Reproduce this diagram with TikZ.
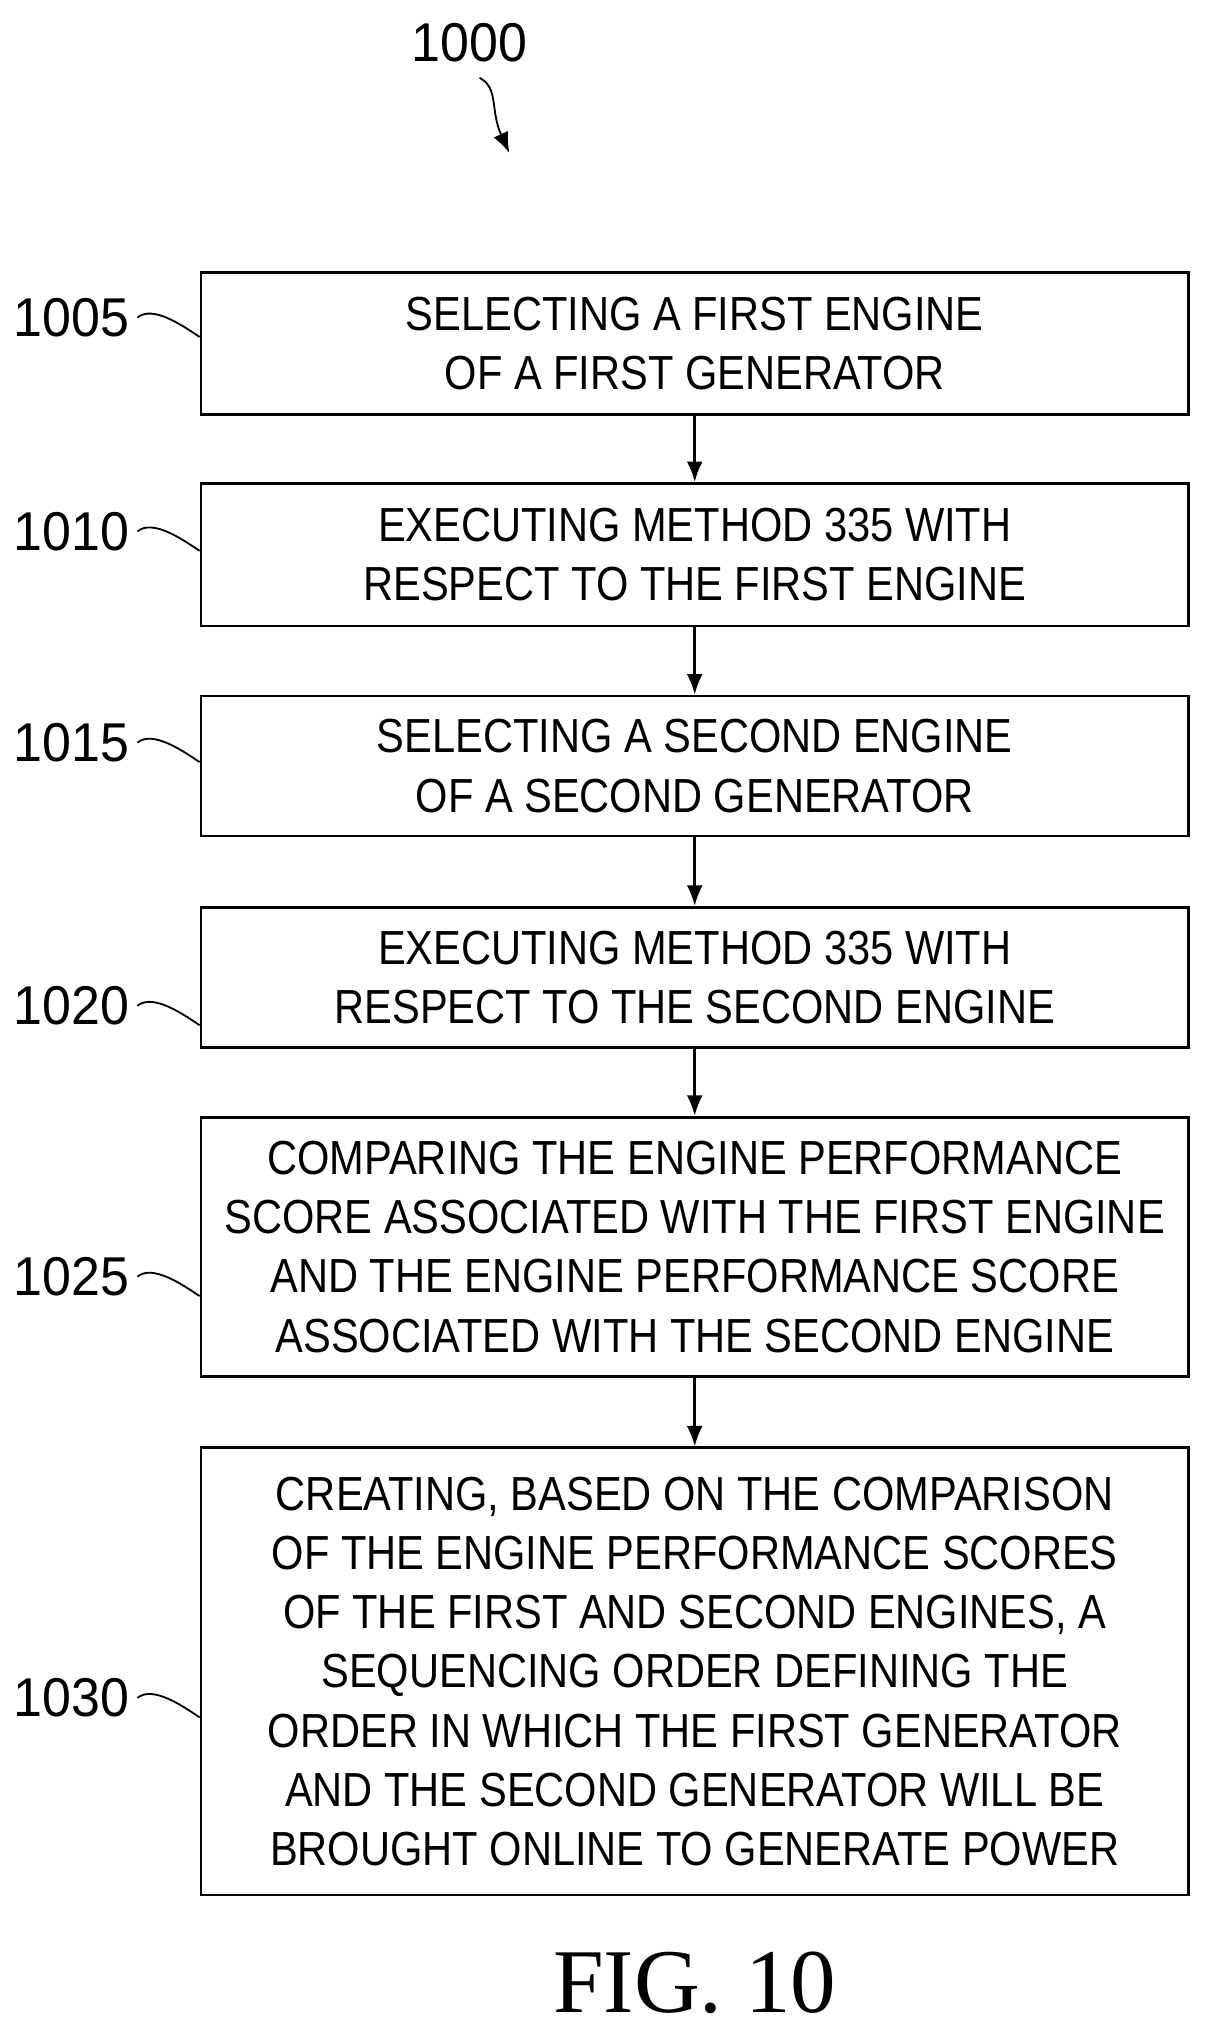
\documentclass[tikz,border=0pt]{standalone}
\usepackage{fontspec}
\setmainfont{Liberation Sans}[FakeStretch=0.87]
\newfontfamily\labfont{Liberation Sans}[FakeStretch=0.95]
\newfontfamily\figfont{Liberation Serif}
\usetikzlibrary{arrows.meta}
\begin{document}
\begin{tikzpicture}[x=0.02cm,y=-0.02cm,
  box/.style={draw,line width=1.2pt,minimum width=15.24cm,align=center,font=\fontsize{21}{26}\selectfont,inner sep=0pt},
  lab/.style={font=\labfont\fontsize{24}{28}\selectfont,anchor=east},
  sq/.style={line width=0.8pt},
  arr/.style={line width=1.2pt,-{Latex[length=9pt,width=7pt]}}]
\useasboundingbox (0,0) rectangle (940,1577);
\node[font=\labfont\fontsize{24}{28}\selectfont] (t) at (362,33) {1000};
\coordinate (ts) at (370,60);
\coordinate (te) at (393,118);
\draw[arr,line width=0.8pt] (ts) .. controls (385,68) and (378,85) .. (te);
\node[box,minimum height=2.2cm] (b1) at (536,265) {SELECTING A FIRST ENGINE\\OF A FIRST GENERATOR};
\node[box,minimum height=2.2cm] (b2) at (536,428) {EXECUTING METHOD 335 WITH\\RESPECT TO THE FIRST ENGINE};
\node[box,minimum height=2.16cm] (b3) at (536,591) {SELECTING A SECOND ENGINE\\OF A SECOND GENERATOR};
\node[box,minimum height=2.16cm] (b4) at (536,754) {EXECUTING METHOD 335 WITH\\RESPECT TO THE SECOND ENGINE};
\node[box,minimum height=4.0cm] (b5) at (536,962) {COMPARING THE ENGINE PERFORMANCE\\SCORE ASSOCIATED WITH THE FIRST ENGINE\\AND THE ENGINE PERFORMANCE SCORE\\ASSOCIATED WITH THE SECOND ENGINE};
\node[box,minimum height=6.9cm] (b6) at (536,1289.5) {CREATING, BASED ON THE COMPARISON\\OF THE ENGINE PERFORMANCE SCORES\\OF THE FIRST AND SECOND ENGINES, A\\SEQUENCING ORDER DEFINING THE\\ORDER IN WHICH THE FIRST GENERATOR\\AND THE SECOND GENERATOR WILL BE\\BROUGHT ONLINE TO GENERATE POWER};
\foreach \a/\b in {b1/b2,b2/b3,b3/b4,b4/b5,b5/b6} \draw[arr] (\a) -- (\b);
\foreach \n/\l/\y in {b1/1005/245,b2/1010/410,b3/1015/573,b4/1020/776,b5/1025/985,b6/1030/1310}{
  \node[lab] (l\l) at (106,\y) {\l};
  \draw[sq] (l\l.east) .. controls +(12,-10) and +(-12,-8) .. ([yshift=-0.3cm]l\l.east -| \n.west);
}
\node[font=\figfont\fontsize{40}{44}\selectfont] (fig) at (536,1530) {FIG. 10};
\end{tikzpicture}
\end{document}
